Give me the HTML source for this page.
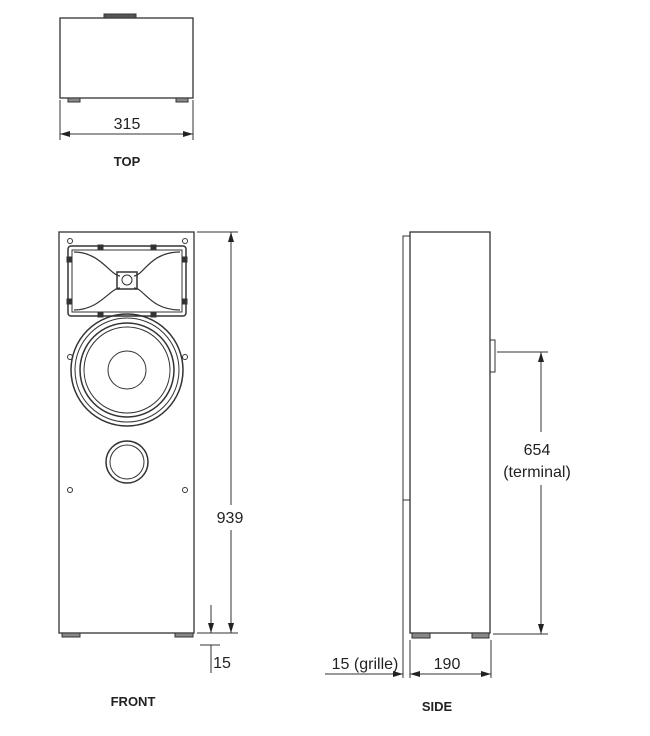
<!DOCTYPE html><html><head><style>body{margin:0;background:#fff}svg{display:block}text{font-family:"Liberation Sans",sans-serif;fill:#222}</style></head><body>
<svg width="650" height="736" viewBox="0 0 650 736" xmlns="http://www.w3.org/2000/svg">
<defs><marker id="a" markerWidth="10" markerHeight="6" refX="10" refY="3" orient="auto-start-reverse" markerUnits="userSpaceOnUse"><path d="M0,0L10,3L0,6z" fill="#222"/></marker></defs>
<g stroke="#333" fill="none" stroke-width="1">
<!-- TOP -->
<rect x="60" y="18" width="133" height="80" stroke-width="1.3"/>
<rect x="104" y="14" width="32" height="4" fill="#555"/>
<rect x="68" y="98" width="12" height="4" fill="#888"/><rect x="176" y="98" width="12" height="4" fill="#888"/>
<line x1="60" y1="100" x2="60" y2="140"/><line x1="193" y1="100" x2="193" y2="140"/>
<line x1="60" y1="134" x2="193" y2="134" marker-start="url(#a)" marker-end="url(#a)"/>
<!-- FRONT -->
<rect x="59" y="232" width="135" height="401" stroke-width="1.3"/>
<rect x="62" y="633" width="18" height="4" fill="#888"/><rect x="175" y="633" width="18" height="4" fill="#888"/>
<rect x="68" y="246" width="118" height="70" rx="3" stroke-width="1.5"/>
<rect x="72" y="250" width="110" height="62"/>
<path d="M74,252 C100,252 110,275 120,276 M180,252 C150,252 144,275 134,276 M74,310 C100,310 110,288 120,288 M180,310 C150,310 144,288 134,288" stroke-width="1.2"/>
<rect x="117" y="272" width="20" height="17" stroke-width="1.5"/><circle cx="127" cy="280" r="5"/>
<g fill="#333"><rect x="98" y="245" width="5" height="4"/><rect x="151" y="245" width="5" height="4"/><rect x="98" y="313" width="5" height="4"/><rect x="151" y="313" width="5" height="4"/><rect x="67" y="257" width="4" height="5"/><rect x="183" y="257" width="4" height="5"/><rect x="67" y="299" width="4" height="5"/><rect x="183" y="299" width="4" height="5"/></g>
<circle cx="127" cy="370" r="56" stroke-width="1.5"/><circle cx="127" cy="370" r="52"/><circle cx="127" cy="370" r="47" stroke-width="1.5"/><circle cx="127" cy="370" r="43"/><circle cx="127" cy="370" r="19"/>
<circle cx="127" cy="462" r="21" stroke-width="1.5"/><circle cx="127" cy="462" r="17"/>
<g><circle cx="70" cy="241" r="2.5"/><circle cx="185" cy="241" r="2.5"/><circle cx="70" cy="357" r="2.5"/><circle cx="185" cy="357" r="2.5"/><circle cx="70" cy="490" r="2.5"/><circle cx="185" cy="490" r="2.5"/></g>
<line x1="197" y1="232" x2="238" y2="232"/><line x1="197" y1="633" x2="238" y2="633"/>
<line x1="231" y1="232" x2="231" y2="505" marker-start="url(#a)"/><line x1="231" y1="530" x2="231" y2="633" marker-end="url(#a)"/>
<line x1="211" y1="605" x2="211" y2="633" marker-end="url(#a)"/><line x1="211" y1="673" x2="211" y2="645" /><line x1="200" y1="645" x2="220" y2="645"/>
<!-- SIDE -->
<rect x="410" y="232" width="80" height="401" stroke-width="1.3"/>
<rect x="403" y="236" width="7" height="264"/>
<rect x="490" y="340" width="5" height="32"/>
<rect x="412" y="633" width="18" height="5" fill="#888"/><rect x="472" y="633" width="17" height="5" fill="#888"/>
<line x1="497" y1="352" x2="548" y2="352"/><line x1="493" y1="634" x2="548" y2="634"/>
<line x1="541" y1="352" x2="541" y2="432" marker-start="url(#a)"/><line x1="541" y1="485" x2="541" y2="634" marker-end="url(#a)"/>
<line x1="403" y1="500" x2="403" y2="678"/><line x1="410" y1="640" x2="410" y2="678"/><line x1="491" y1="640" x2="491" y2="678"/>
<line x1="325" y1="674" x2="403" y2="674" marker-end="url(#a)"/>
<line x1="410" y1="674" x2="491" y2="674" marker-start="url(#a)" marker-end="url(#a)"/>
</g>
<g font-size="16" text-anchor="middle">
<text x="127" y="129">315</text>
<text x="230" y="523">939</text>
<text x="222" y="668">15</text>
<text x="537" y="455">654</text>
<text x="537" y="477">(terminal)</text>
<text x="365" y="669">15 (grille)</text>
<text x="447" y="669">190</text>
</g>
<g font-size="13" font-weight="bold" text-anchor="middle">
<text x="127" y="166">TOP</text><text x="133" y="706">FRONT</text><text x="437" y="711">SIDE</text>
</g>
</svg></body></html>
